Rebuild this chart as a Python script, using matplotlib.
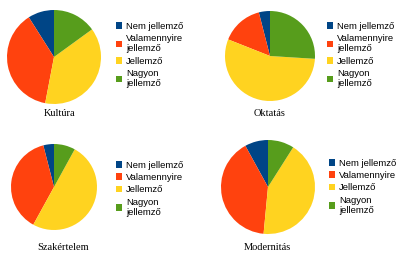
import matplotlib.pyplot as plt
from matplotlib.patches import Patch
from matplotlib.legend import Legend

# szinek (LibreOffice alap paletta)
colors = ["#004586", "#ff420e", "#ffd320", "#579d1c"]

titles = ["Kultúra", "Oktatás", "Szakértelem", "Modernitás"]
labels_long = ["Nem jellemző", "Valamennyire\njellemző", "Jellemző", "Nagyon\njellemző"]
labels_short = ["Nem jellemző", "Valamennyire", "Jellemző", "Nagyon\njellemző"]

# szazalekok: Nem, Valamennyire, Jellemző, Nagyon
kultura = [9, 38, 38, 15]
oktatas = [4, 15, 55, 26]
szakertelem = [4, 38, 50, 8]
modernitas = [8, 40.5, 42.5, 9]

values = [kultura, oktatas, szakertelem, modernitas]
legend_labels = [labels_long, labels_long, labels_short, labels_short]

# elrendezes pixelben (x, y felulrol, sugar)
pies = [(54, 57, 47), (270, 56, 45), (54, 187, 43), (268, 187, 47)]
title_pos = [(60, 114), (270, 114), (63, 248), (267, 247)]
legend_pos = [(111, 17), (322, 17), (111, 156), (324, 154)]

H = 267
fig = plt.figure(figsize=(4, 2.67), dpi=100)
ax = fig.add_axes([0, 0, 1, 1])

for i, vals in enumerate(values):
    cx, cy, r = pies[i]
    ax.pie(vals, colors=colors, startangle=90, counterclock=True,
           center=(cx, H - cy), radius=r, frame=True,
           wedgeprops={"linewidth": 0})
    tx, ty = title_pos[i]
    ax.text(tx, H - ty, titles[i], ha="center", va="center",
            fontsize=7.5, family="Liberation Serif")
    handles = [Patch(facecolor=c, edgecolor="none") for c in colors]
    lx, ly = legend_pos[i]
    leg = Legend(ax, handles, legend_labels[i], loc="upper left",
                 bbox_to_anchor=(lx / 400, 1 - ly / H),
                 bbox_transform=fig.transFigure,
                 frameon=False, handlelength=0.7, handleheight=0.7,
                 handletextpad=0.4, labelspacing=0.35, borderpad=0,
                 prop={"family": "Liberation Sans", "size": 6.8})
    ax.add_artist(leg)

ax.set_xlim(0, 400)
ax.set_ylim(0, H)
ax.set_aspect("equal")
ax.axis("off")
fig.savefig("out.png", dpi=100)
